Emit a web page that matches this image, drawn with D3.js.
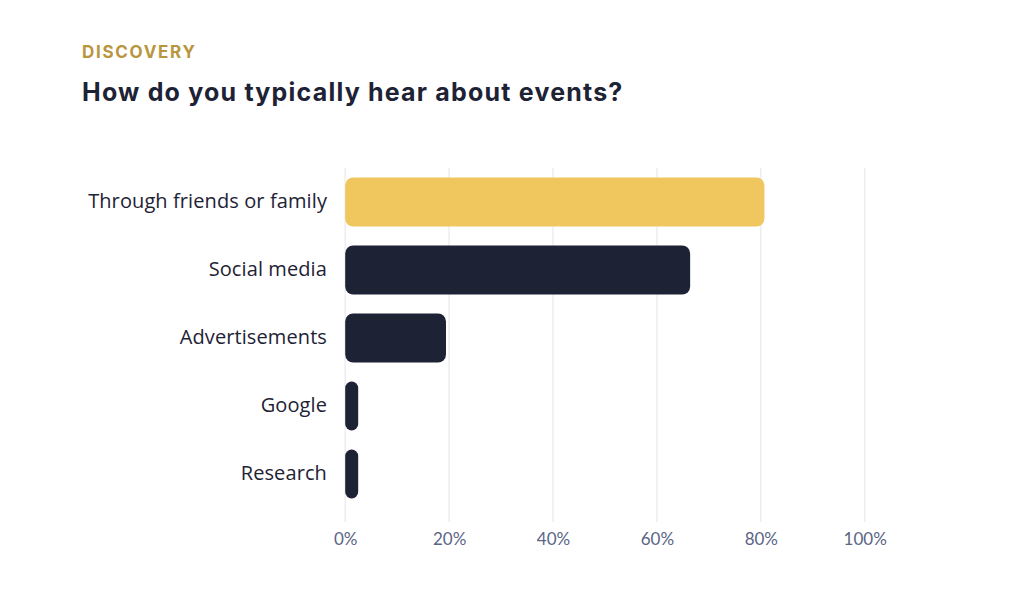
<!DOCTYPE html>
<html>
<head>
<meta charset="utf-8">
<script src="https://cdn.jsdelivr.net/npm/d3@7"></script>
<style>
  html, body { margin: 0; padding: 0; background: #ffffff; }
  svg { display: block; }
</style>
</head>
<body>
<svg id="chart" width="1014" height="600"></svg>
<script>
const categories = ["Through friends or family", "Social media", "Advertisements", "Google", "Research"];
const values = [80.7, 66.4, 19.4, 2.5, 2.5];
const highlight = [true, false, false, false, false];
const tickValues = [0, 20, 40, 60, 80, 100];
const kicker = "DISCOVERY";
const title = "How do you typically hear about events?";

const svg = d3.select("#chart");

svg.append("text")
  .attr("x", 82).attr("y", 58)
  .attr("font-family", "Inter, 'DejaVu Sans', sans-serif")
  .attr("font-weight", 700)
  .attr("font-size", 17)
  .attr("letter-spacing", 1.7)
  .attr("fill", "#B8963E")
  .text(kicker);

svg.append("text")
  .attr("x", 82).attr("y", 101)
  .attr("font-family", "Inter, 'DejaVu Sans', sans-serif")
  .attr("font-weight", 700)
  .attr("font-size", 25)
  .attr("letter-spacing", 1.2)
  .attr("fill", "#1E2235")
  .text(title);

const x = d3.scaleLinear().domain([0, 100]).range([345.2, 864.7]);
const y = d3.scaleBand().domain(categories).range([168, 508]).paddingInner(0.28).paddingOuter(0.14);

// grid
svg.append("g").selectAll("line").data(tickValues).join("line")
  .attr("x1", d => x(d)).attr("x2", d => x(d))
  .attr("y1", 168).attr("y2", 522)
  .attr("stroke", "#EEEEEE").attr("stroke-width", 1.5);

// axis labels
const xAxis = d3.axisBottom(x).tickValues(tickValues).tickFormat(d => d + "%").tickSize(0).tickPadding(0);
const gx = svg.append("g").attr("transform", "translate(0,545)").call(xAxis);
gx.select(".domain").remove();
gx.selectAll("text")
  .attr("dy", 0)
  .attr("font-family", "Lato, 'Open Sans', sans-serif")
  .attr("font-size", 17)
  .attr("fill", "#5A6585");

// category labels
const yAxis = d3.axisLeft(y).tickSize(0).tickPadding(0);
const gy = svg.append("g").attr("transform", "translate(327,0)").call(yAxis);
gy.select(".domain").remove();
gy.selectAll("text")
  .attr("font-family", "'Open Sans', Lato, sans-serif")
  .attr("font-size", 20)
  .attr("letter-spacing", 0.1)
  .attr("fill", "#1E2235");

// bars
svg.append("g").selectAll("rect").data(categories).join("rect")
  .attr("x", x(0))
  .attr("y", d => y(d))
  .attr("width", (d, i) => x(values[i]) - x(0))
  .attr("height", y.bandwidth())
  .attr("rx", (d, i) => Math.min(8, (x(values[i]) - x(0)) / 2))
  .attr("fill", (d, i) => highlight[i] ? "#EFC75E" : "#1E2235");
</script>
</body>
</html>
